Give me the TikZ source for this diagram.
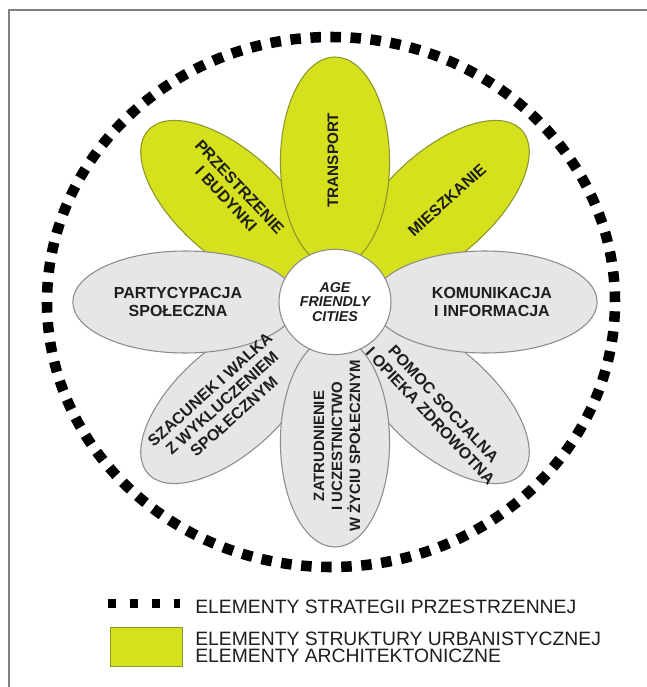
\documentclass[tikz,border=0pt]{standalone}
\usepackage{fontspec}
\setmainfont{Liberation Sans}
\usetikzlibrary{shapes.geometric}

\definecolor{leafgreen}{RGB}{213,225,28}
\definecolor{leafline}{RGB}{140,150,40}
\definecolor{petalgrey}{RGB}{230,230,230}
\definecolor{petalline}{RGB}{140,140,140}
\definecolor{ink}{RGB}{30,30,30}

\begin{document}
\begin{tikzpicture}[x=0.75pt, y=0.75pt,
    petaltext/.style={font=\bfseries\fontsize{#1}{13.5}\selectfont,
      align=center, text=ink, inner sep=0pt},
    petaltext/.default=12,
    keytext/.style={font=\fontsize{14.5}{17}\selectfont,
      anchor=base west, text=ink, inner sep=0pt},
    ring/.style={line width=7.9pt, dash pattern=on 7.9pt off 7.15pt},
  ]
  % no units = px of the page, origin in the middle of the flower
  \useasboundingbox (-335,-385) rectangle (312,302);
  \fill[white] (-335,-385) rectangle (312,302);

  \draw[gray, line width=1pt] (-326,-385) -- (-326,292) -- (312,292);

  \draw[ring] (-4,0) ellipse [x radius=284, y radius=265];

  % diagonal petals first, the others lie on top
  \begin{scope}[xscale=1.07]
    \foreach \a/\fc/\lc in {45/leafgreen/leafline, 135/leafgreen/leafline,
        225/petalgrey/petalline, 315/petalgrey/petalline,
        0/petalgrey/petalline, 90/leafgreen/leafline,
        180/petalgrey/petalline, 270/petalgrey/petalline}
      \draw[rotate=\a, fill=\fc, draw=\lc, line width=0.8pt]
        (140,0) ellipse [x radius=105, y radius=51];
  \end{scope}

  \node[ellipse, draw=petalline, fill=white, line width=0.8pt,
    minimum width=84pt, minimum height=79pt, inner sep=0pt,
    font=\bfseries\itshape\fontsize{10.7}{11}\selectfont,
    align=center, text=ink] (hub) at (0,0) {AGE\\FRIENDLY\\CITIES};

  \node[petaltext=11.4, rotate=90] (transport) at (-2,142) {TRANSPORT};
  \node[petaltext, rotate=-47] (przestrzenie) at (-102,109)
    {PRZESTRZENIE\\I BUDYNKI};
  \node[petaltext, rotate=42] (mieszkanie) at (112,102) {MIESZKANIE};
  \node[petaltext] (komunikacja) at (157,0) {KOMUNIKACJA\\I INFORMACJA};
  \node[petaltext] (partycypacja) at (-157,0) {PARTYCYPACJA\\SPOŁECZNA};
  \node[petaltext, rotate=42] (szacunek) at (-113,-101)
    {SZACUNEK I WALKA\\Z WYKLUCZENIEM\\SPOŁECZNYM};
  \node[petaltext=11.2, rotate=90] (zatrudnienie) at (2,-144)
    {ZATRUDNIENIE\\I UCZESTNICTWO\\W ŻYCIU SPOŁECZNYM};
  \node[petaltext, rotate=-47] (pomoc) at (102,-108)
    {POMOC SOCJALNA\\I OPIEKA ZDROWOTNA};

  % legend
  \draw[line width=6.5pt, dash pattern=on 6pt off 10.5pt]
    (-227,-301.5) -- (-155,-301.5);
  \filldraw[fill=leafgreen, draw=leafline] (-225,-325) rectangle (-153,-364);
  \node[keytext] (keyring) at (-140,-311) {ELEMENTY STRATEGII PRZESTRZENNEJ};
  \node[keytext] (keyurban) at (-140,-343) {ELEMENTY STRUKTURY URBANISTYCZNEJ};
  \node[keytext] (keyarch) at (-140,-360) {ELEMENTY ARCHITEKTONICZNE};
\end{tikzpicture}
\end{document}
